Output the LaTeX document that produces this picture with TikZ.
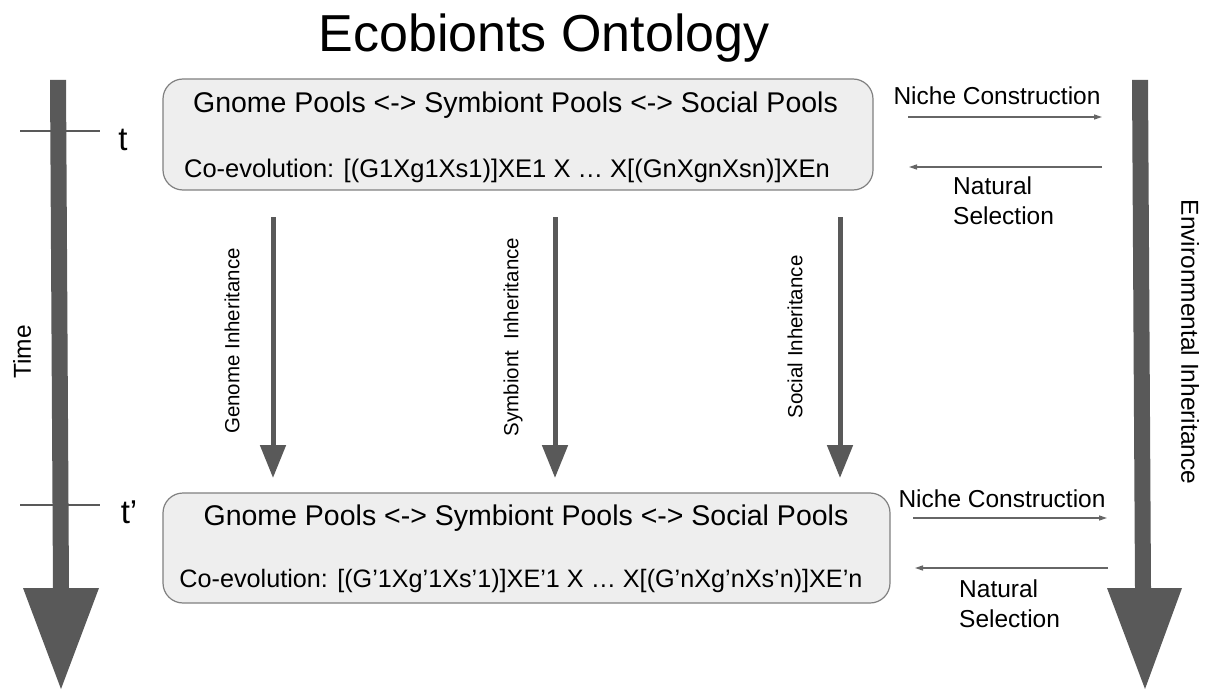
\documentclass[tikz,border=0pt]{standalone}
\usepackage{fontspec}
\setmainfont{Liberation Sans}
\usetikzlibrary{arrows.meta}
\definecolor{arr}{HTML}{595959}
\definecolor{boxfill}{HTML}{EEEEEE}
\definecolor{boxline}{HTML}{808080}
\definecolor{thinarr}{HTML}{666666}
\begin{document}
\begin{tikzpicture}[x=1pt,y=-1pt,
  titletext/.style={font=\fontsize{52}{60}\selectfont, inner sep=0pt, anchor=base},
  poolbox/.style={draw=boxline, line width=1.2pt, fill=boxfill, rounded corners=20pt, inner sep=0pt},
  pooltext/.style={font=\fontsize{28.5}{34}\selectfont, inner sep=0pt, anchor=base},
  coevtext/.style={font=\fontsize{25.5}{30}\selectfont, inner sep=0pt, anchor=base},
  coevtextb/.style={font=\fontsize{25.2}{30}\selectfont, inner sep=0pt, anchor=base},
  sidetext/.style={font=\fontsize{24.5}{30}\selectfont, inner sep=0pt},
  inhlabel/.style={font=\fontsize{20.5}{24}\selectfont, rotate=90, inner sep=0pt},
  timemark/.style={font=\fontsize{33}{38}\selectfont, inner sep=0pt, anchor=base},
  inharrow/.style={draw=arr, line width=5pt, -{Triangle[width=25pt,length=33pt]}},
  thinarrow/.style={draw=thinarr, line width=1.4pt, -{Triangle[width=5pt,length=8pt]}},
  tick/.style={draw=arr, line width=1.3pt},
  bigarrow/.style={fill=arr}
]
\useasboundingbox (0,0) rectangle (1208,690);

% title
\node[titletext] (title) at (544,52) {Ecobionts Ontology};

% big time arrows
\fill[bigarrow] (50,80) -- (66,80) -- (69,588) -- (99,588) -- (61,689) -- (23,588) -- (53,588) -- cycle;
\fill[bigarrow] (1132,80) -- (1148,80) -- (1151,588) -- (1182,588) -- (1145,689) -- (1107,588) -- (1135,588) -- cycle;

\node[sidetext, rotate=90] (time) at (22,352) {Time};
\node[sidetext, rotate=-90] (env) at (1190,342) {Environmental Inheritance};

% ticks
\coordinate (tk1a) at (20,131); \coordinate (tk1b) at (100,131);
\coordinate (tk2a) at (20,505); \coordinate (tk2b) at (100,505);
\draw[tick] (tk1a) -- (tk1b);
\draw[tick] (tk2a) -- (tk2b);
\node[timemark] (tlab) at (123,150) {t};
\node[timemark] (tplab) at (129,523) {t’};

% boxes
\node[poolbox, minimum width=710pt, minimum height=111pt] (topbox) at (518,134.5) {};
\node[pooltext] (top1) at (515.5,113) {Gnome Pools <-> Symbiont Pools <-> Social Pools};
\node[coevtext] (top2) at (507,178) {Co-evolution: [(G1Xg1Xs1)]XE1 X … X[(GnXgnXsn)]XEn};

\node[poolbox, minimum width=727pt, minimum height=110pt] (botbox) at (526.5,548) {};
\node[pooltext] (bot1) at (526,525) {Gnome Pools <-> Symbiont Pools <-> Social Pools};
\node[coevtextb] (bot2) at (521,587) {Co-evolution: [(G’1Xg’1Xs’1)]XE’1 X … X[(G’nXg’nXs’n)]XE’n};

% inheritance arrows
\coordinate (ga) at (273,217); \coordinate (gb) at (273,478);
\coordinate (sa) at (555,217); \coordinate (sb) at (555,478);
\coordinate (oa) at (840,217); \coordinate (ob) at (840,478);
\draw[inharrow] (ga) -- (gb);
\draw[inharrow] (sa) -- (sb);
\draw[inharrow] (oa) -- (ob);
\node[inhlabel] (glab) at (232,341) {Genome Inheritance};
\node[inhlabel] (slab) at (513,337) {Symbiont \ Inheritance};
\node[inhlabel] (olab) at (795,337) {Social Inheritance};

% niche construction / natural selection (top)
\node[sidetext, anchor=base] (nc1) at (997,105) {Niche Construction};
\coordinate (nc1a) at (908,117); \coordinate (nc1b) at (1102,117);
\draw[thinarrow] (nc1a) -- (nc1b);
\coordinate (ns1a) at (1102,167); \coordinate (ns1b) at (909,167);
\draw[thinarrow] (ns1a) -- (ns1b);
\node[sidetext, align=left, anchor=north west] (ns1) at (953,177) {Natural\\Selection};

% niche construction / natural selection (bottom)
\node[sidetext, anchor=base] (nc2) at (1002,507) {Niche Construction};
\coordinate (nc2a) at (913,518); \coordinate (nc2b) at (1107,518);
\draw[thinarrow] (nc2a) -- (nc2b);
\coordinate (ns2a) at (1108,568); \coordinate (ns2b) at (915,568);
\draw[thinarrow] (ns2a) -- (ns2b);
\node[sidetext, align=left, anchor=north west] (ns2) at (959,580) {Natural\\Selection};
\end{tikzpicture}
\end{document}
